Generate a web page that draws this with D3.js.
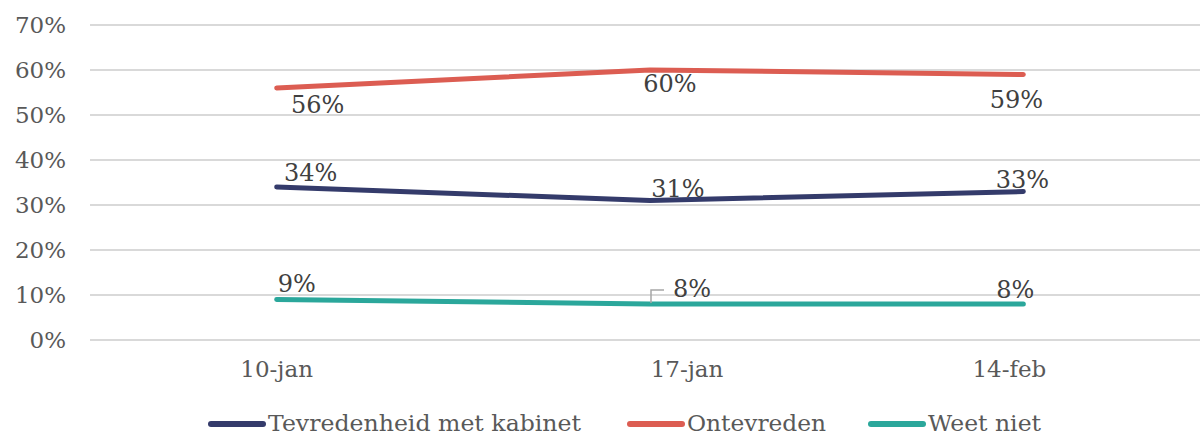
<!DOCTYPE html>
<html lang="nl">
<head>
    <meta charset="UTF-8">
    <script src="https://d3js.org/d3.v7.min.js"></script>
    <title>Tevredenheid met kabinet</title>
    <style>
        body { margin: 0; background: #fff; }
        text { font-family: "DejaVu Serif", serif; }
    </style>
</head>
<body>
    <div id="chart"></div>
    <script>

        const dates = ['10-jan', '17-jan', '14-feb'];
        const tevreden = [34, 31, 33];
        const ontevreden = [56, 60, 59];
        const weetNiet = [9, 8, 8];
        const yTicks = [0, 10, 20, 30, 40, 50, 60, 70];

        const series = [
            {name: 'Tevredenheid met kabinet', values: tevreden, color: '#343b6b'},
            {name: 'Ontevreden', values: ontevreden, color: '#dc5d52'},
            {name: 'Weet niet', values: weetNiet, color: '#2ba79b'}
        ];

        // label nudges (Excel labels were dragged by hand)
        const labelShift = {
            'Tevredenheid met kabinet': [[34, -6], [28, -4], [-1, -4]],
            'Ontevreden': [[41, 25], [20, 22], [-7, 33]],
            'Weet niet': [[20, -8], [42, -7], [-8, -6]]
        };
        const catShift = [0, 37, -14];

        var width = 1200, height = 435;

        var svg = d3.select("#chart")
            .append("svg")
            .attr("width", width)
            .attr("height", height);

        var x = d3.scalePoint()
            .domain(dates)
            .range([90, 1210])
            .padding(0.5);

        var y = d3.scaleLinear()
            .domain([0, 70])
            .range([340, 25]);

        // gridlines
        svg.append("g")
            .selectAll("line")
            .data(yTicks)
            .enter().append("line")
            .attr("x1", 90)
            .attr("x2", width)
            .attr("y1", d => y(d))
            .attr("y2", d => y(d))
            .attr("stroke", "#d9d9d9")
            .attr("stroke-width", 2);

        // y labels
        svg.append("g")
            .selectAll("text")
            .data(yTicks)
            .enter().append("text")
            .attr("x", 66)
            .attr("y", d => y(d))
            .attr("dy", "0.35em")
            .attr("text-anchor", "end")
            .attr("font-size", "23px")
            .attr("fill", "#595959")
            .text(d => d + "%");

        // x labels
        svg.append("g")
            .selectAll("text")
            .data(dates)
            .enter().append("text")
            .attr("x", (d, i) => x(d) + catShift[i])
            .attr("y", 377)
            .attr("text-anchor", "middle")
            .attr("font-size", "23px")
            .attr("fill", "#595959")
            .text(d => d);

        var line = d3.line()
            .x((d, i) => x(dates[i]))
            .y(d => y(d));

        series.forEach(function(s) {
            svg.append("path")
                .attr("d", line(s.values))
                .attr("fill", "none")
                .attr("stroke", s.color)
                .attr("stroke-width", 5)
                .attr("stroke-linecap", "round")
                .attr("stroke-linejoin", "round");
        });

        // leader line for middle "8%"
        var lx = x(dates[1]), ly = y(weetNiet[1]);
        svg.append("path")
            .attr("d", "M" + (lx + 1) + "," + (ly - 1) + "V" + (ly - 14) + "H" + (lx + 14))
            .attr("fill", "none")
            .attr("stroke", "#a6a6a6")
            .attr("stroke-width", 1.5);

        series.forEach(function(s) {
            svg.append("g")
                .selectAll("text")
                .data(s.values)
                .enter().append("text")
                .attr("x", (d, i) => x(dates[i]) + labelShift[s.name][i][0])
                .attr("y", (d, i) => y(d) + labelShift[s.name][i][1])
                .attr("text-anchor", "middle")
                .attr("font-size", "24px")
                .attr("fill", "#404040")
                .text(d => d + "%");
        });

        // legend
        var legendX = [208, 627, 868];
        var legendW = [313, 139, 113];
        var legend = svg.append("g")
            .selectAll("g")
            .data(series)
            .enter().append("g")
            .attr("transform", (d, i) => "translate(" + legendX[i] + ",424)");

        legend.append("line")
            .attr("x1", 3)
            .attr("x2", 55)
            .attr("stroke", d => d.color)
            .attr("stroke-width", 6)
            .attr("stroke-linecap", "round");

        legend.append("text")
            .attr("x", 60)
            .attr("y", 7)
            .attr("font-size", "23px")
            .attr("fill", "#595959")
            .attr("textLength", (d, i) => legendW[i])
            .attr("lengthAdjust", "spacingAndGlyphs")
            .text(d => d.name);
    </script>
</body>
</html>
